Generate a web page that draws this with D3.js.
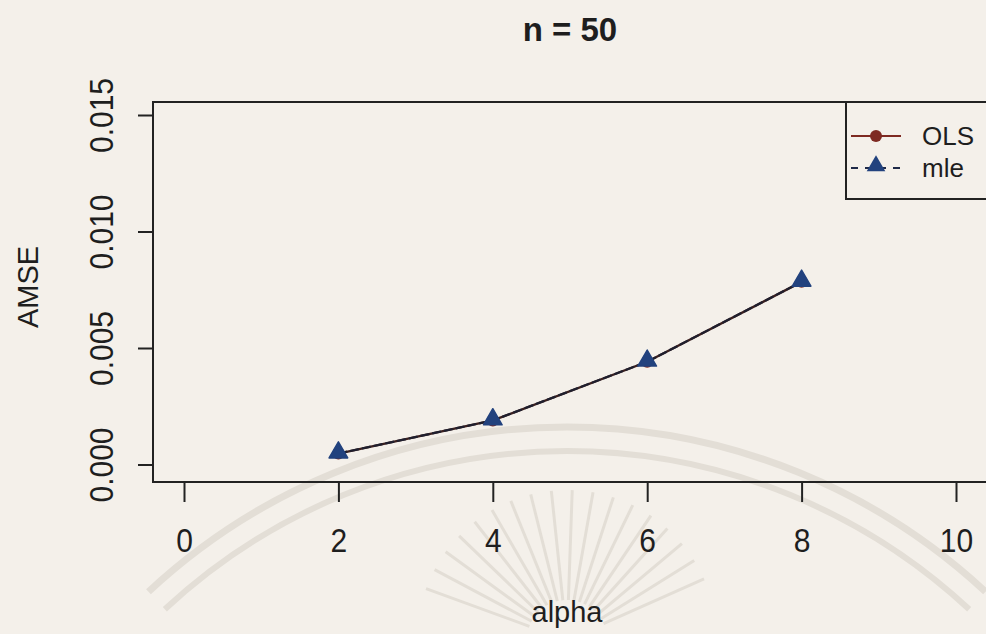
<!DOCTYPE html>
<html>
<head>
<meta charset="utf-8">
<script src="https://cdn.jsdelivr.net/npm/d3@7"></script>
<style>
  html, body { margin: 0; padding: 0; background: #f4f0ea; }
  svg { display: block; }
  text { font-family: "Liberation Sans", Arial, sans-serif; fill: #1e1e1e; }
</style>
</head>
<body>
<svg id="chart" width="986" height="634"></svg>
<script>
// AMSE of the two estimators against alpha, n = 50
const alpha = [2, 4, 6, 8];
const olsAMSE = [0.00047, 0.00189, 0.00441, 0.00784];
const mleAMSE = [0.00047, 0.00189, 0.00441, 0.00784];
const xTicks = [0, 2, 4, 6, 8, 10];
const yTicks = [0.000, 0.005, 0.010, 0.015];
const seriesNames = ["OLS", "mle"];

const olsColor = "#7e2a22";
const mleColor = "#22427e";
const ink = "#222";

const svg = d3.select("#chart");

// plot region
const box = { left: 153, right: 990, top: 102, bottom: 482 };

const x = d3.scaleLinear().domain([0, 10]).range([184, 956]);
const y = d3.scaleLinear().domain([0, 0.015]).range([464.5, 115]);

// faint seal in the page background
const seal = svg.append("g").attr("fill", "none").attr("stroke", "#e3ded6");
[[614, 7], [590, 6]].forEach(([r, w]) => {
  seal.append("path")
    .attr("d", d3.arc()({ innerRadius: r, outerRadius: r, startAngle: -0.75, endAngle: 0.75 }))
    .attr("transform", "translate(567,1041)")
    .attr("stroke-width", w);
});
const rays = d3.range(-70, 71, 8);
seal.selectAll("line.ray").data(rays).join("line")
  .attr("class", "ray")
  .attr("x1", d => 567 + 40 * Math.sin(d * Math.PI / 180))
  .attr("y1", d => 640 - 40 * Math.cos(d * Math.PI / 180))
  .attr("x2", d => 567 + 150 * Math.sin(d * Math.PI / 180))
  .attr("y2", d => 640 - 150 * Math.cos(d * Math.PI / 180))
  .attr("stroke-width", 3);

// title
svg.append("text")
  .attr("x", 570).attr("y", 41)
  .attr("text-anchor", "middle")
  .attr("font-size", 33).attr("font-weight", "bold")
  .text("n = 50");

// frame
svg.append("rect")
  .attr("x", box.left).attr("y", box.top)
  .attr("width", box.right - box.left).attr("height", box.bottom - box.top)
  .attr("fill", "none").attr("stroke", ink).attr("stroke-width", 2);

// x axis
const xAxis = d3.axisBottom(x).tickValues(xTicks).tickSize(20).tickPadding(0).tickFormat(d3.format("d"));
const gx = svg.append("g").attr("transform", `translate(0,${box.bottom})`).call(xAxis);
gx.select(".domain").remove();
gx.selectAll(".tick line").attr("stroke", ink).attr("stroke-width", 2);
gx.selectAll(".tick text")
  .attr("y", null).attr("dy", null)
  .attr("transform", "translate(0,70) scale(1,1.13)")
  .attr("font-size", 30)
  .attr("font-family", "Liberation Sans, Arial, sans-serif")
  .attr("fill", "#1e1e1e");

// y axis
const yAxis = d3.axisLeft(y).tickValues(yTicks).tickSize(15).tickPadding(0).tickFormat(d3.format(".3f"));
const gy = svg.append("g").attr("transform", `translate(${box.left},0)`).call(yAxis);
gy.select(".domain").remove();
gy.selectAll(".tick line").attr("stroke", ink).attr("stroke-width", 2);
gy.selectAll(".tick text")
  .attr("x", null).attr("dy", null)
  .attr("transform", "translate(-40,0) rotate(-90) scale(1,1.08)")
  .attr("text-anchor", "middle")
  .attr("font-size", 30)
  .attr("font-family", "Liberation Sans, Arial, sans-serif")
  .attr("fill", "#1e1e1e");

// axis titles
svg.append("text")
  .attr("x", 567).attr("y", 622)
  .attr("text-anchor", "middle")
  .attr("font-size", 29)
  .text("alpha");
svg.append("text")
  .attr("transform", "translate(38,287) rotate(-90)")
  .attr("text-anchor", "middle")
  .attr("font-size", 29)
  .text("AMSE");

// series
const line = d3.line().x(d => x(d[0])).y(d => y(d[1]));
const olsPts = alpha.map((a, i) => [a, olsAMSE[i]]);
const mlePts = alpha.map((a, i) => [a, mleAMSE[i]]);

svg.append("path").datum(olsPts)
  .attr("d", line).attr("fill", "none")
  .attr("stroke", "#3a2020").attr("stroke-width", 2.4);
svg.selectAll("circle.ols").data(olsPts).join("circle")
  .attr("class", "ols")
  .attr("cx", d => x(d[0])).attr("cy", d => y(d[1]))
  .attr("r", 6).attr("fill", olsColor);

svg.append("path").datum(mlePts)
  .attr("d", line).attr("fill", "none")
  .attr("stroke", "#1f1f2e").attr("stroke-width", 2.2)
  .attr("stroke-dasharray", "9,3");

const tri = d3.symbol().type(d3.symbolTriangle).size(150);
svg.selectAll("path.mle").data(mlePts).join("path")
  .attr("class", "mle")
  .attr("d", tri)
  .attr("transform", d => `translate(${x(d[0])},${y(d[1]) - 1})`)
  .attr("fill", mleColor)
  .attr("stroke", mleColor).attr("stroke-width", 1.5).attr("stroke-linejoin", "round");

// legend
const lg = svg.append("g");
lg.append("rect")
  .attr("x", 846).attr("y", box.top)
  .attr("width", box.right - 846).attr("height", 97)
  .attr("fill", "#f4f0ea").attr("stroke", ink).attr("stroke-width", 2);

const legendRows = [
  { name: seriesNames[0], y: 136, color: olsColor, dash: null, mark: "circle" },
  { name: seriesNames[1], y: 168, color: mleColor, dash: "7,7", mark: "triangle" }
];
legendRows.forEach(r => {
  lg.append("line")
    .attr("x1", 851).attr("x2", 901).attr("y1", r.y).attr("y2", r.y)
    .attr("stroke", r.mark === "circle" ? olsColor : "#1f2a48")
    .attr("stroke-width", 2)
    .attr("stroke-dasharray", r.dash);
  if (r.mark === "circle") {
    lg.append("circle").attr("cx", 876).attr("cy", r.y).attr("r", 6).attr("fill", r.color);
  } else {
    lg.append("path").attr("d", tri).attr("transform", `translate(876,${r.y - 2})`).attr("fill", r.color);
  }
  lg.append("text")
    .attr("x", 922).attr("y", r.y + 9)
    .attr("font-size", 26)
    .text(r.name);
});
</script>
</body>
</html>
